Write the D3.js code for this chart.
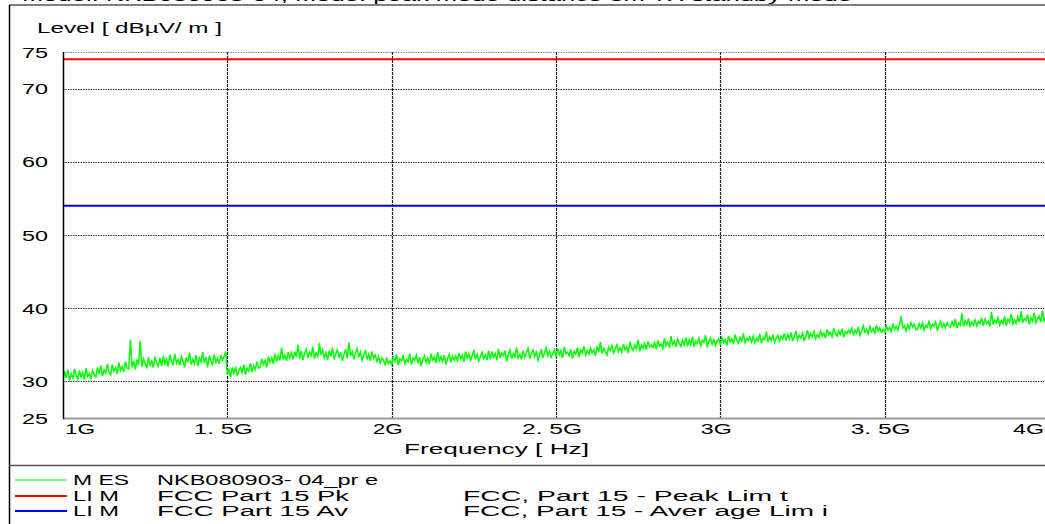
<!DOCTYPE html>
<html>
<head>
<meta charset="utf-8">
<script src="https://cdn.jsdelivr.net/npm/d3@7/dist/d3.min.js"></script>
<style>
  html, body { margin: 0; padding: 0; background: #fff; }
  svg { display: block; font-family: "Liberation Sans", Arial, sans-serif; }
</style>
</head>
<body>
<svg id="chart" width="1045" height="524"></svg>
<script>
// ---------------- data ----------------
const titleText = "Model: NKB080903-04, Mode: peak mode distance 3m   TX standby mode";
const yTitle = "Level [ dBµV/ m ]";
const xTitle = "Frequency [ Hz]";
const yTicks = [25, 30, 40, 50, 60, 70, 75];
const yGrid = [30, 40, 50, 60, 70, 75];
const xTicks = [1e9, 1.5e9, 2e9, 2.5e9, 3e9, 3.5e9, 4e9];
const xTickLabels = ["1G", "1. 5G", "2G", "2. 5G", "3G", "3. 5G", "4G"];
const sweepStart = 1e9;      // Hz
const sweepStep = 5e6;       // Hz between readings
// measured level (dBµV/m), one reading every 5 MHz from 1 GHz to 4 GHz
const mesValues = [
  30.2,31.4,30.5,31.6,30.1,31.0,30.4,31.7,30.8,30.3,31.5,30.6,31.2,30.2,31.8,30.7,31.1,30.4,31.5,30.9,
  30.6,31.9,31.0,32.2,30.7,31.6,31.1,32.4,31.3,30.9,32.3,31.4,31.9,31.0,32.6,31.5,32.0,31.3,32.7,31.8,
  31.7,35.7,31.9,32.8,31.6,33.0,32.2,35.5,32.0,33.1,32.4,31.9,33.3,32.2,32.8,31.9,33.4,32.5,32.1,33.2,
  32.1,33.5,32.4,33.1,32.0,33.6,32.7,32.3,33.8,32.5,33.0,32.2,33.4,32.8,31.9,33.3,32.6,33.9,32.3,33.0,
  32.4,33.6,32.1,33.2,32.7,34.0,32.5,33.3,31.9,33.5,32.8,32.3,33.7,32.6,33.1,32.4,33.6,32.9,33.4,34.1,
  30.9,31.6,30.6,31.9,31.1,32.0,30.8,31.5,31.9,31.2,32.3,30.9,31.8,31.4,32.5,31.3,32.1,31.6,32.7,31.8,
  32.0,33.1,32.3,32.9,31.9,33.4,32.6,33.2,32.4,33.8,32.7,33.5,32.9,34.6,33.0,33.6,32.8,34.0,33.2,33.9,
  33.0,34.1,33.3,35.0,33.1,34.2,32.9,33.8,34.4,33.2,34.0,33.5,34.7,33.1,33.9,33.4,35.2,33.6,34.3,33.2,
  33.9,32.9,34.2,33.4,34.6,33.0,33.8,34.3,33.2,34.0,32.8,33.7,34.4,33.1,35.3,33.5,34.1,33.0,33.9,34.5,
  33.3,34.0,32.9,33.6,34.3,33.0,33.7,32.8,34.1,33.2,33.6,32.7,33.4,32.5,33.2,32.9,32.3,33.1,32.4,32.8,
  32.3,33.4,32.6,33.7,32.2,33.1,32.8,33.5,32.4,33.0,32.7,33.8,32.3,33.2,32.9,33.6,32.5,33.3,32.1,33.0,
  33.5,32.6,33.2,32.4,33.8,32.9,33.3,32.5,34.0,32.8,33.4,32.7,33.6,32.3,33.1,33.7,32.6,33.4,32.9,33.5,
  32.8,33.9,33.1,33.6,32.7,34.1,33.2,33.8,32.9,33.5,34.3,33.0,33.7,32.8,33.4,34.0,33.1,33.6,32.9,34.2,
  33.0,34.1,33.3,33.8,32.9,34.4,33.2,33.9,33.5,34.2,32.7,33.7,34.3,33.1,33.8,33.4,34.6,33.2,33.7,33.0,
  34.2,33.3,33.9,34.5,33.1,33.8,34.3,33.4,34.0,32.9,33.6,34.4,33.2,33.9,34.6,33.5,34.1,33.3,33.8,34.3,
  33.4,34.5,33.6,34.2,33.2,34.7,33.8,34.0,33.5,34.4,33.1,34.1,33.7,34.6,33.3,34.3,33.9,34.8,33.6,34.2,
  33.7,34.6,33.9,34.3,33.5,34.8,34.0,35.4,33.8,34.5,34.1,33.6,34.7,34.2,34.9,33.9,34.4,35.0,34.1,34.6,
  34.0,35.1,34.3,34.8,33.9,35.4,34.6,34.2,35.0,34.4,35.7,34.1,34.9,34.5,35.2,34.3,35.5,34.7,35.0,34.6,
  35.3,34.4,35.6,34.8,35.1,34.5,35.9,34.9,35.4,34.6,36.2,35.0,35.5,34.7,35.8,35.2,34.8,35.6,35.0,36.0,
  34.8,35.7,35.0,36.1,34.7,35.5,35.2,35.9,34.9,35.6,35.3,36.3,34.8,35.4,35.9,35.1,35.7,34.9,35.5,35.8,
  35.0,36.0,35.3,35.7,34.9,36.2,35.4,35.8,35.1,36.4,35.6,35.2,36.0,35.5,36.6,35.3,35.9,35.6,36.1,35.4,
  36.2,35.3,35.9,35.5,36.5,35.2,36.0,35.7,36.8,35.4,36.1,35.6,36.4,35.3,35.9,36.3,35.5,36.2,35.8,36.6,
  35.6,36.4,35.8,36.7,35.5,36.2,36.9,35.7,36.3,35.9,36.6,35.6,36.1,37.0,35.9,36.5,36.1,36.8,35.8,36.4,
  36.0,36.9,36.2,36.6,35.9,37.1,36.4,36.7,36.1,37.3,36.5,36.2,36.9,36.4,37.2,36.0,36.8,36.5,37.0,36.6,
  37.3,36.4,37.0,36.6,37.4,36.3,36.9,37.6,36.7,37.1,36.5,37.5,36.8,37.2,36.6,37.7,36.9,37.3,36.7,37.1,
  36.7,37.6,37.0,37.4,36.8,37.9,37.1,37.5,37.0,37.8,38.9,37.3,37.6,36.9,37.7,37.2,38.0,37.4,37.8,37.1,
  37.1,37.9,37.3,38.0,37.0,37.7,37.4,38.3,37.2,37.8,37.5,38.1,37.0,37.6,38.2,37.4,37.9,37.3,38.0,37.6,
  37.4,38.2,37.6,38.5,37.3,38.0,37.7,39.3,37.5,38.3,37.8,38.6,37.4,38.1,37.7,38.4,37.6,38.2,37.9,38.7,
  37.6,38.5,37.9,38.2,37.5,39.5,37.8,38.4,38.0,38.7,37.7,38.3,37.9,38.9,37.6,38.5,38.1,39.2,37.8,38.4,
  37.9,38.8,38.1,39.6,38.0,38.6,38.3,39.1,37.8,38.7,38.2,39.4,38.0,38.5,38.9,38.1,39.7,38.3,38.8,38.2,
  38.6
];
const peakLimit = 74;     // dBµV/m
const avgLimit = 54;      // dBµV/m
const legendCodes = ["M ES", "LI M", "LI M"];
const legendNames = ["NKB080903- 04_pr e", "FCC Part 15 Pk", "FCC Part 15 Av"];
const legendDescs = ["", "FCC, Part 15 - Peak Lim t", "FCC, Part 15 - Aver age Lim i"];
const seriesColors = ["#00ff00", "#ff0000", "#0000ff"];

// ---------------- drawing ----------------
const svg = d3.select("#chart");
svg.append("rect").attr("width", 1045).attr("height", 524).attr("fill", "#fff");

const plot = { left: 63, right: 1049, top: 52, bottom: 418 };
const x = d3.scaleLinear().domain([1e9, 4e9]).range([plot.left, plot.right]);
const y = d3.scaleLinear().domain([25, 75]).range([plot.bottom, plot.top]);

function txt(parent, str, px, py, size, len, anchor) {
  const t = parent.append("text")
    .attr("x", px).attr("y", py)
    .attr("font-size", size)
    .attr("fill", "#000")
    .attr("text-anchor", anchor || "start")
    .text(str);
  if (len) t.attr("textLength", len).attr("lengthAdjust", "spacingAndGlyphs");
  return t;
}

// cut-off header text at the very top (only the lowest pixels show, as in the reference)
txt(svg, titleText, 22, 0.5, 15, 830);

// page frame lines
svg.append("line").attr("x1", 9).attr("x2", 1045).attr("y1", 5).attr("y2", 5)
  .attr("stroke", "#808080").attr("stroke-width", 2);
svg.append("line").attr("x1", 9.5).attr("x2", 9.5).attr("y1", 5).attr("y2", 524)
  .attr("stroke", "#000").attr("stroke-width", 1.5);
svg.append("line").attr("x1", 9).attr("x2", 1045).attr("y1", 465.5).attr("y2", 465.5)
  .attr("stroke", "#555").attr("stroke-width", 1.5);

// y title
txt(svg, yTitle, 37, 33, 15, 185);

// grid
const grid = svg.append("g");
grid.selectAll("line.h").data(yGrid).join("line")
  .attr("x1", plot.left).attr("x2", 1045)
  .attr("y1", d => Math.round(y(d)) + 0.5).attr("y2", d => Math.round(y(d)) + 0.5)
  .attr("stroke", d => d === 75 ? "#888" : "#333")
  .attr("stroke-width", 1)
  .attr("stroke-dasharray", "1.5,1");
grid.selectAll("line.v").data(xTicks.slice(1, -1)).join("line")
  .attr("x1", d => Math.round(x(d)) + 0.5).attr("x2", d => Math.round(x(d)) + 0.5)
  .attr("y1", plot.top).attr("y2", plot.bottom)
  .attr("stroke", "#222")
  .attr("stroke-width", 1.2)
  .attr("stroke-dasharray", "3,1");

// limit lines
svg.append("line")
  .attr("x1", plot.left).attr("x2", 1045)
  .attr("y1", y(peakLimit)).attr("y2", y(peakLimit))
  .attr("stroke", seriesColors[1]).attr("stroke-width", 2);
svg.append("line")
  .attr("x1", plot.left).attr("x2", 1045)
  .attr("y1", y(avgLimit)).attr("y2", y(avgLimit))
  .attr("stroke", seriesColors[2]).attr("stroke-width", 2);

// measurement trace
const mesData = mesValues.map((v, i) => [sweepStart + i * sweepStep, v]);
const line = d3.line().x(d => x(d[0])).y(d => y(d[1]));
svg.append("path").datum(mesData)
  .attr("d", line)
  .attr("fill", "none")
  .attr("stroke", seriesColors[0])
  .attr("stroke-width", 1.5)
  .attr("stroke-linejoin", "miter");

// axes lines
svg.append("line").attr("x1", plot.left).attr("x2", 1045)
  .attr("y1", plot.bottom + 0.5).attr("y2", plot.bottom + 0.5)
  .attr("stroke", "#999").attr("stroke-width", 2);
svg.append("line").attr("x1", plot.left + 0.5).attr("x2", plot.left + 0.5)
  .attr("y1", plot.top).attr("y2", plot.bottom + 1)
  .attr("stroke", "#000").attr("stroke-width", 1.5);

// y axis labels via d3 axis
const yAxis = d3.axisLeft(y).tickValues(yTicks).tickSize(0).tickPadding(0)
  .tickFormat(d3.format("d"));
const gy = svg.append("g").attr("transform", "translate(48,0)").call(yAxis);
gy.select(".domain").remove();
gy.selectAll("text")
  .attr("font-family", "'Liberation Sans', Arial, sans-serif")
  .attr("font-size", 14)
  .attr("fill", "#000")
  .attr("dy", "0.36em")
  .attr("textLength", 26)
  .attr("lengthAdjust", "spacingAndGlyphs");

// x axis labels via d3 axis
const xLabelLen = [30, 59, 30, 60, 31, 60, 31];
const xAxis = d3.axisBottom(x).tickValues(xTicks).tickSize(0).tickPadding(0)
  .tickFormat((d, i) => xTickLabels[i]);
const gx = svg.append("g").call(xAxis);
gx.select(".domain").remove();
gx.selectAll(".tick").attr("transform", d => "translate(" + x(d) + ",0)");
gx.selectAll("text")
  .attr("font-family", "'Liberation Sans', Arial, sans-serif")
  .attr("font-size", 15)
  .attr("fill", "#000")
  .attr("y", 434)
  .attr("dy", 0)
  .attr("textLength", (d, i) => xLabelLen[i])
  .attr("lengthAdjust", "spacingAndGlyphs")
  .attr("text-anchor", (d, i) => i === 0 ? "start" : (i === xTicks.length - 1 ? "end" : "middle"))
  .attr("x", (d, i) => i === 0 ? 2 : (i === xTicks.length - 1 ? 1044 - x(d) : -4));

// x title
txt(svg, xTitle, 404, 454, 15, 185);

// legend
const legRows = [485, 501, 516];
const nameLens = [221, 192, 191];
const codeLens = [56, 46, 46];
const descLens = [0, 325, 365];
const leg = svg.append("g");
legRows.forEach((ry, i) => {
  leg.append("line").attr("x1", 15).attr("x2", 67)
    .attr("y1", ry - 5).attr("y2", ry - 5)
    .attr("stroke", seriesColors[i]).attr("stroke-width", i === 0 ? 1.2 : 2);
  txt(leg, legendCodes[i], 73, ry, 14, codeLens[i]);
  txt(leg, legendNames[i], 157, ry, 14, nameLens[i]);
  if (legendDescs[i]) txt(leg, legendDescs[i], 463, ry, 14, descLens[i]);
});
</script>
</body>
</html>
